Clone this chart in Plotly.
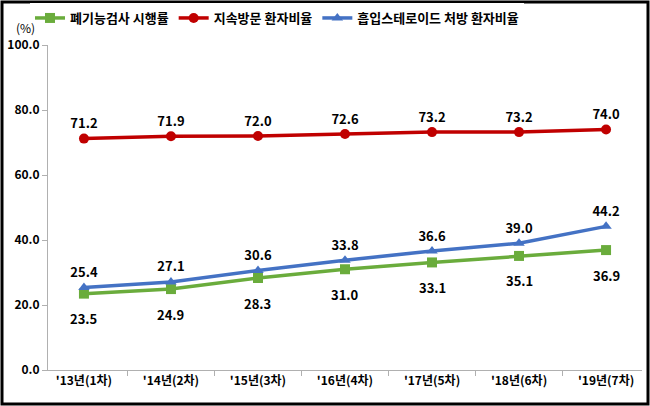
import plotly.graph_objects as go

categories = ["'13년(1차)", "'14년(2차)", "'15년(3차)", "'16년(4차)", "'17년(5차)", "'18년(6차)", "'19년(7차)"]
lung_test = [23.5, 24.9, 28.3, 31.0, 33.1, 35.1, 36.9]
continuous_visit = [71.2, 71.9, 72.0, 72.6, 73.2, 73.2, 74.0]
inhaled_steroid = [25.4, 27.1, 30.6, 33.8, 36.6, 39.0, 44.2]

W, H = 650, 406
ML, MR, MT, MB = 48, 8, 45, 36
FONT = "Noto Sans CJK KR"

fig = go.Figure()
series = [
    ("폐기능검사 시행률", lung_test, "#6aac3c", "square", None),
    ("지속방문 환자비율", continuous_visit, "#c00000", "circle", "top center"),
    ("흡입스테로이드 처방 환자비율", inhaled_steroid, "#4472c4", "triangle-up", "top center"),
]
for name, vals, color, sym, pos in series:
    fig.add_trace(go.Scatter(
        x=categories, y=vals, name=name,
        mode="lines+markers+text" if pos else "lines+markers",
        line=dict(color=color, width=3.5),
        marker=dict(symbol=sym, size=10, color=color),
        text=[f"<b>{v:.1f}</b>" for v in vals] if pos else None,
        textposition=pos,
        textfont=dict(family=FONT, size=13, color="black"),
        cliponaxis=False,
    ))

# green labels sit further below their points
for c, v in zip(categories, lung_test):
    fig.add_annotation(x=c, y=v, text=f"<b>{v:.1f}</b>", showarrow=False,
                       yshift=-25, font=dict(family=FONT, size=13, color="black"))

pw = W - ML - MR
ph = H - MT - MB
# black frame round the whole picture
fig.add_shape(type="rect", xref="paper", yref="paper",
              x0=-(ML - 2) / pw, x1=1 + (MR - 2) / pw,
              y0=-(MB - 2) / ph, y1=1 + (MT - 2) / ph,
              line=dict(color="black", width=3))
fig.add_annotation(text="(%)", xref="paper", yref="paper",
                   x=-(ML - 25) / pw, y=1 + (MT - 27) / ph,
                   xanchor="center", yanchor="middle",
                   showarrow=False, font=dict(family=FONT, size=12, color="black"))

fig.update_layout(
    width=W, height=H,
    margin=dict(l=ML, r=MR, t=MT, b=MB, autoexpand=False),
    plot_bgcolor="white", paper_bgcolor="white",
    font=dict(family=FONT, size=12, color="black"),
    legend=dict(orientation="h", x=30 / W, xanchor="left", xref="container",
                y=1 - 18 / H, yref="container", yanchor="middle",
                font=dict(family=FONT, size=13, color="black", weight="bold"),
                itemwidth=30),
    showlegend=True,
)
fig.update_xaxes(showline=True, linecolor="#b0b0b0", linewidth=1, showgrid=False,
                 ticks="outside", tickson="boundaries", ticklen=5, tickcolor="#b0b0b0",
                 tickfont=dict(family=FONT, size=12, color="black", weight="bold"))
fig.update_yaxes(range=[0, 100], dtick=20, tickformat=".1f", showline=True,
                 linecolor="#b0b0b0", linewidth=1, showgrid=False, zeroline=False,
                 ticks="outside", ticklen=5, tickcolor="#b0b0b0",
                 tickfont=dict(family=FONT, size=12, color="black", weight="bold"))

fig.write_html("out.html", config={"displayModeBar": False},
               post_script="document.body.style.margin='0';")
